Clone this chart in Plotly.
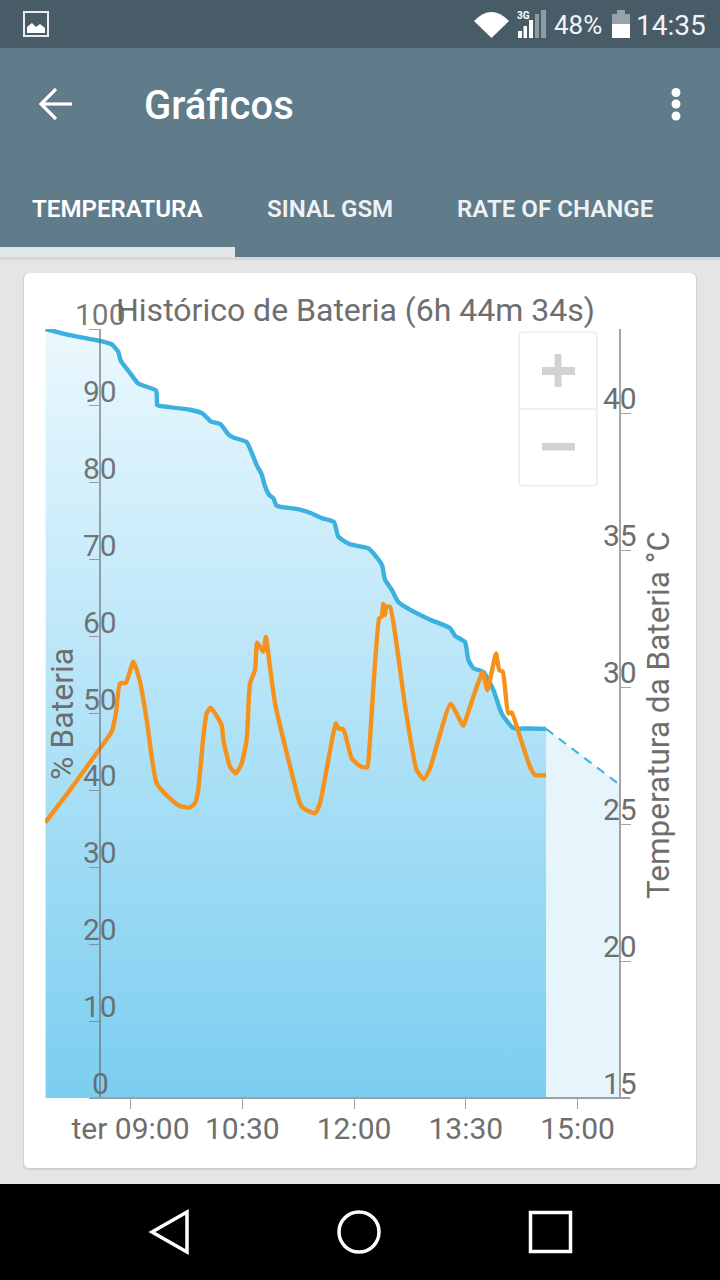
import pandas as pd
import plotly.graph_objects as go

W, H = 720, 1280

# ---- data (minutes relative to 09:00 on the Tuesday shown) ----
battery_minutes = [-68.4, -48.8, -24.6, -15.2, -9.9, -8.0, -0.5, 6.2, 20.5, 21.5, 23.7, 47.8, 58.1, 64.5, 72.6, 78.7, 82.7,
                   93.5, 98.8, 101.6, 105.8, 108.2, 111.7, 114.9, 117.7, 133.8, 144.5, 153.9, 163.8, 167.3,
                   176.7, 191.4, 196.8, 202.5, 204.9, 210.3, 215.6, 225.0, 241.2, 257.3, 261.3, 269.3, 272.0,
                   276.0, 284.1, 292.1, 298.9, 308.2, 320.0, 334.6]
battery_percent = [100.0, 99.2, 98.45, 98.0, 97.05, 95.9, 94.3, 92.9, 92.0, 90.1, 90.0, 89.5, 89.0, 88.0, 87.6, 86.3, 85.9,
                   85.3, 83.4, 82.3, 81.0, 79.6, 78.4, 78.0, 77.0, 76.6, 76.1, 75.4, 74.9, 73.0,
                   72.0, 71.5, 70.6, 69.3, 67.4, 66.1, 64.5, 63.5, 62.2, 61.1, 60.1, 59.3, 57.0,
                   55.9, 55.4, 53.1, 50.0, 48.1, 48.05, 48.0]
forecast_minutes = [334.6, 394.2]
forecast_percent = [48.0, 40.7]
temp_minutes = [-68.9, -48.8, -24.6, -15.2, -11.8, -8.5, -3.7, 2.2, 7.6, 13.0, 21.0, 31.7, 39.8, 47.8, 51.9, 54.5, 58.6, 61.3,
                64.5, 73.4, 74.7, 80.1, 84.9, 89.5, 93.5, 96.2, 100.2, 102.0, 106.9, 109.0, 112.2, 116.3,
                120.3, 136.4, 139.1, 148.5, 152.5, 165.4, 167.3, 171.3, 178.1, 184.8, 190.6, 192.2, 200.3,
                202.2, 203.5, 204.9, 205.7, 208.9, 214.3, 221.0, 230.4, 236.3, 241.1, 257.8, 268.0, 270.7,
                283.6, 287.4, 294.3, 296.9, 299.7, 304.2, 306.9, 312.3, 321.7, 325.7, 334.6]
temp_celsius = [25.05, 26.24, 27.76, 28.37, 29.04, 30.13, 30.16, 30.93, 30.2, 28.8, 26.49, 25.94, 25.66, 25.6, 25.76, 26.24, 28.19, 29.04,
                29.25, 28.61, 28.07, 27.09, 26.85, 27.22, 28.07, 30.13, 30.62, 31.62, 31.29, 31.83, 30.74, 29.41,
                28.61, 25.76, 25.58, 25.39, 25.76, 28.68, 28.49, 28.46, 27.4, 27.12, 27.07, 27.7, 32.51,
                32.57, 33.03, 32.63, 32.93, 32.93, 31.54, 29.34, 26.97, 26.64, 27.03, 29.38, 28.59, 28.92,
                30.53, 29.89, 31.23, 30.62, 30.56, 29.04, 29.07, 28.37, 27.09, 26.79, 26.79]
x_tick_minutes = [0, 90, 180, 270, 360]
x_tick_labels = ["ter 09:00", "10:30", "12:00", "13:30", "15:00"]
left_ticks = [0, 10, 20, 30, 40, 50, 60, 70, 80, 90, 100]
right_ticks = [15, 20, 25, 30, 35, 40]
title_text = "Histórico de Bateria (6h 44m 34s)"
left_title = "% Bateria"
right_title = "Temperatura da Bateria °C"
x_range_minutes = [-68.9, 402.2]
right_range = [15, 43.07]

BASE = pd.Timestamp("2016-03-01 09:00:00")
def when(ms):
    return [BASE + pd.Timedelta(minutes=m) for m in ms]

def px(x): return x / W
def py(y): return 1 - y / H

FONT = "Roboto"
GREY = "#6e6e6e"
AXIS = "rgba(110,110,110,0.62)"

fig = go.Figure()
fig.add_trace(go.Scatter(x=when(forecast_minutes), y=forecast_percent, mode="lines", fill="tozeroy",
                         fillcolor="#E6F5FC", line=dict(color="#3CB0DE", width=2, dash="9px,7px"),
                         hoverinfo="skip", showlegend=False))
fig.add_trace(go.Scatter(x=when(battery_minutes), y=battery_percent, mode="lines", fill="tozeroy",
                         fillgradient=dict(type="vertical", start=0, stop=100,
                                           colorscale=[[0, "#7BCEF0"], [1, "#EBF8FE"]]),
                         line=dict(color="#3CB0DE", width=4.4, shape="spline", smoothing=0.5),
                         hoverinfo="skip", showlegend=False))
fig.add_trace(go.Scatter(x=when(temp_minutes), y=temp_celsius, yaxis="y2", mode="lines",
                         line=dict(color="#F5921E", width=4.4, shape="spline", smoothing=0.5),
                         hoverinfo="skip", showlegend=False))

shapes = []
def rect(x0, y0, x1, y1, fill, line=None, lw=0, layer="below"):
    shapes.append(dict(type="rect", xref="paper", yref="paper", x0=px(x0), x1=px(x1), y0=py(y0), y1=py(y1),
                       fillcolor=fill, line=dict(color=line or fill, width=lw), layer=layer))
def path(points, closed=False, fill=None, line=None, lw=0, layer="below"):
    d = "M" + " L".join(f"{px(a):.5f},{py(b):.5f}" for a, b in points) + (" Z" if closed else "")
    shapes.append(dict(type="path", xref="paper", yref="paper", path=d,
                       fillcolor=fill or "rgba(0,0,0,0)",
                       line=dict(color=line or "rgba(0,0,0,0)", width=lw), layer=layer))
def circle(cx, cy, r, fill=None, line=None, lw=0, rx=None):
    rx = rx or r
    shapes.append(dict(type="circle", xref="paper", yref="paper", x0=px(cx-rx), x1=px(cx+rx),
                       y0=py(cy-r), y1=py(cy+r), fillcolor=fill or "rgba(0,0,0,0)",
                       line=dict(color=line or "rgba(0,0,0,0)", width=lw), layer="below"))

# App chrome
rect(0, 0, 720, 48, "#485C67")
rect(0, 48, 720, 257, "#607B8A")
rect(0, 257, 720, 260, "#D6D6D6")
rect(0, 247, 235, 257, "#E1E7EB")
# Card
def card(x0, y0, x1, y1, r, fill):
    d = (f"M{px(x0+r)},{py(y0)} L{px(x1-r)},{py(y0)} Q{px(x1)},{py(y0)} {px(x1)},{py(y0+r)} "
         f"L{px(x1)},{py(y1-r)} Q{px(x1)},{py(y1)} {px(x1-r)},{py(y1)} L{px(x0+r)},{py(y1)} "
         f"Q{px(x0)},{py(y1)} {px(x0)},{py(y1-r)} L{px(x0)},{py(y0+r)} Q{px(x0)},{py(y0)} {px(x0+r)},{py(y0)} Z")
    shapes.append(dict(type="path", xref="paper", yref="paper", path=d, fillcolor=fill,
                       line=dict(width=0, color=fill), layer="below"))
card(23, 273, 697, 1170, 6, "#CFCFCF")
card(24, 273, 696, 1168, 6, "#FFFFFF")
# Navigation bar
rect(0, 1184, 720, 1280, "#000000")
path([(187, 1212), (187, 1252), (152, 1232)], closed=True, line="#FFFFFF", lw=3.5)
circle(359, 1232, 20, line="#FFFFFF", lw=3.5)
rect(530.5, 1212.5, 570.5, 1251.5, "rgba(0,0,0,0)", line="#FFFFFF", lw=3.5)
# Status bar icons
rect(24, 12, 48, 36, "rgba(0,0,0,0)", line="#E8ECEE", lw=2)
path([(27, 33), (27, 27), (32, 23), (36, 27), (40, 24), (45, 28), (45, 33)], closed=True, fill="#FFFFFF")
d = f"M{px(474)},{py(21)} Q{px(491.5)},{py(3)} {px(509)},{py(21)} L{px(491.5)},{py(38)} Z"
shapes.append(dict(type="path", xref="paper", yref="paper", path=d, fillcolor="#FFFFFF",
                   line=dict(width=0, color="#FFFFFF"), layer="below"))
rect(518, 31, 522, 38, "#FFFFFF")
rect(523.5, 26, 527, 38, "#FFFFFF")
rect(529, 20, 533, 38, "#FFFFFF")
rect(535, 14, 539, 38, "#8E9BA2")
rect(541, 10, 546, 38, "#8E9BA2")
rect(612, 14, 630, 24, "#98A3A8")
rect(617, 10, 625, 14, "#98A3A8")
rect(612, 24, 630, 38, "#FFFFFF")
# Toolbar icons
path([(72, 104), (41, 104)], line="#FFFFFF", lw=3.2)
path([(56, 89), (41, 104), (56, 119)], line="#FFFFFF", lw=3.2)
circle(676, 92.5, 4.5, fill="#FFFFFF")
circle(676, 104, 4.5, fill="#FFFFFF")
circle(676, 116, 4.5, fill="#FFFFFF")
# Chart zoom control
card(518.5, 331.5, 597.5, 486.5, 3, "#ECECEC")
card(520, 333, 596, 485, 2, "#FFFFFF")
rect(520, 408.3, 596, 410, "#EFEFEF")
rect(542, 367, 575, 375, "#D2D2D2")
rect(554.5, 354, 561.5, 387, "#D2D2D2")
rect(542, 443, 575, 450.5, "#D2D2D2")
# Bottom axis line (runs past both value axes)
rect(90, 1097, 630, 1099, "#9AA0A3", layer="above")

annotations = []
def label(text, x, y, size=28, color=GREY, anchor="left", weight=None, angle=0):
    f = dict(family=FONT, size=size, color=color)
    if weight:
        f["weight"] = weight
    annotations.append(dict(text=text, xref="paper", yref="paper", x=px(x), y=py(y), xanchor=anchor,
                            yanchor="middle", showarrow=False, font=f, textangle=angle, borderpad=0))

label("Gráficos", 143, 106, size=40, color="#FFFFFF", weight=500)
label("TEMPERATURA", 31, 209, size=24.1, color="#FFFFFF", weight=600)
label("SINAL GSM", 266, 209, size=24.1, color="#EEF2F4", weight=600)
label("RATE OF CHANGE", 456, 209, size=24.1, color="#EEF2F4", weight=600)
label("48%", 553, 25, size=26, color="#F2F4F5")
label("14:35", 634.5, 25, size=28, color="#F2F4F5")
label("3G", 516, 16, size=10, color="#FFFFFF", weight=700)
label(title_text, 355.5, 310, size=32, anchor="center")
label(left_title, 62, 714, size=32, anchor="center", angle=-90)
label(right_title, 658, 715, size=31.5, anchor="center", angle=-90)

for v in left_ticks:
    annotations.append(dict(text=str(v), xref="paper", yref="y", x=px(100), y=v, xanchor="center",
                            yanchor="bottom", yshift=-4, showarrow=False, borderpad=0,
                            font=dict(family=FONT, size=30, color="rgba(95,95,95,0.85)")))
for v in right_ticks:
    annotations.append(dict(text=str(v), xref="paper", yref="y2", x=px(619.5), y=v, xanchor="center",
                            yanchor="bottom", yshift=-4, showarrow=False, borderpad=0,
                            font=dict(family=FONT, size=30, color=GREY)))

fig.update_layout(
    width=W, height=H, autosize=False,
    margin=dict(l=0, r=0, t=0, b=0),
    paper_bgcolor="#E5E5E5", plot_bgcolor="rgba(0,0,0,0)",
    showlegend=False, hovermode=False,
    shapes=shapes, annotations=annotations,
    xaxis=dict(domain=[px(45), px(630)], type="date", range=when(x_range_minutes),
               tickvals=when(x_tick_minutes), ticktext=x_tick_labels, showgrid=False, zeroline=False,
               ticks="outside", ticklen=10, tickwidth=1, tickcolor="#9AA0A3", showline=False,
               tickfont=dict(family=FONT, size=30, color=GREY), ticklabelstandoff=-6, anchor="y"),
    yaxis=dict(domain=[py(1098), py(329)], range=[0, 100], tickvals=left_ticks, showticklabels=False,
               showgrid=False, zeroline=False, showline=True, linecolor=AXIS, linewidth=2,
               ticks="outside", ticklen=10, tickwidth=1, tickcolor=AXIS,
               anchor="free", position=px(100), side="left"),
    yaxis2=dict(domain=[py(1098), py(329)], range=right_range, tickvals=right_ticks, showticklabels=False,
                showgrid=False, zeroline=False, showline=True, linecolor=AXIS, linewidth=2,
                ticks="outside", ticklen=10, tickwidth=1, tickcolor=AXIS,
                anchor="free", position=px(620), side="right", overlaying="y"),
)

fig.write_html("out.html", config=dict(displayModeBar=False),
               post_script="document.body.style.margin='0';document.body.style.overflow='hidden';")
